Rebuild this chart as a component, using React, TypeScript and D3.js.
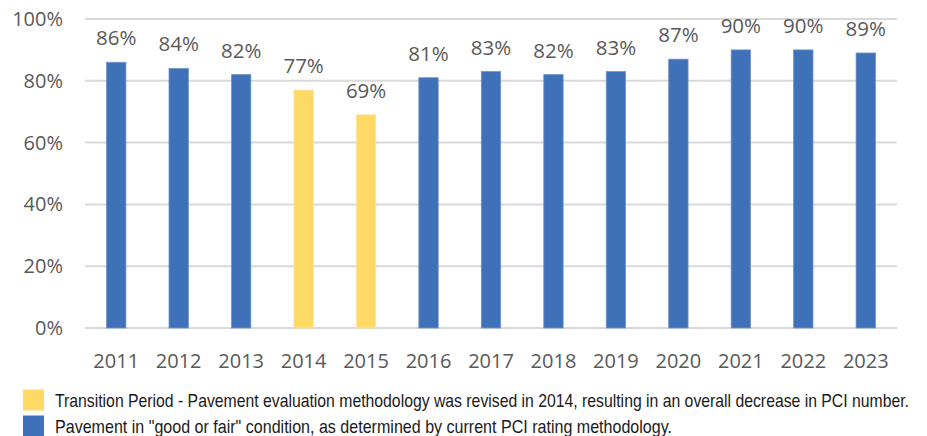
import { useEffect, useRef } from 'react';
import * as d3 from 'd3';

const YEARS = ['2011', '2012', '2013', '2014', '2015', '2016', '2017', '2018', '2019', '2020', '2021', '2022', '2023'];
const VALUES = [86, 84, 82, 77, 69, 81, 83, 82, 83, 87, 90, 90, 89];
const TRANSITION_YEARS = ['2014', '2015'];
const Y_TICKS = [0, 20, 40, 60, 80, 100];
const LEGEND_LABELS = [
  'Transition Period - Pavement evaluation methodology was revised in 2014, resulting in an overall decrease in PCI number.',
  'Pavement in "good or fair" condition, as determined by current PCI rating methodology.',
];

const BLUE = '#3f71b9';
const YELLOW = '#ffd966';

export default function App() {
  const svgRef = useRef<SVGSVGElement>(null);

  useEffect(() => {
    if (!svgRef.current) return;
    const width = 927;
    const height = 436;
    const svg = d3.select(svgRef.current);
    svg.selectAll('*').remove();

    const left = 85;
    const right = 897;
    const top = 19;
    const bottom = 328;

    const x = d3.scaleBand().domain(YEARS).range([left, right]).paddingInner(0.69).paddingOuter(0.345);
    const y = d3.scaleLinear().domain([0, 100]).range([bottom, top]);

    const font = '"Open Sans", "Noto Sans", sans-serif';

    // gridlines
    svg.append('g')
      .selectAll('line')
      .data(Y_TICKS)
      .join('line')
      .attr('x1', left).attr('x2', right)
      .attr('y1', (d) => y(d)).attr('y2', (d) => y(d))
      .attr('stroke', '#d9d9d9')
      .attr('stroke-width', 2);

    // y tick labels
    svg.append('g')
      .selectAll('text')
      .data(Y_TICKS)
      .join('text')
      .attr('x', 63)
      .attr('y', (d) => y(d))
      .attr('dy', '0.35em')
      .attr('text-anchor', 'end')
      .attr('font-family', font)
      .attr('font-size', 20)
      .attr('fill', '#595959')
      .text((d) => `${d}%`);

    // bars
    svg.append('g')
      .selectAll('rect')
      .data(YEARS)
      .join('rect')
      .attr('x', (d) => x(d)!)
      .attr('y', (_, i) => y(VALUES[i]))
      .attr('width', x.bandwidth())
      .attr('height', (_, i) => y(0) - y(VALUES[i]))
      .attr('fill', (d) => (TRANSITION_YEARS.includes(d) ? YELLOW : BLUE))
      .attr('stroke', (d) => (TRANSITION_YEARS.includes(d) ? '#ffe49a' : '#6f93cc'))
      .attr('stroke-width', 0.8);

    // value labels
    svg.append('g')
      .selectAll('text')
      .data(YEARS)
      .join('text')
      .attr('x', (d) => x(d)! + x.bandwidth() / 2)
      .attr('y', (_, i) => y(VALUES[i]) - 17)
      .attr('text-anchor', 'middle')
      .attr('font-family', font)
      .attr('font-size', 20.5)
      .attr('fill', '#595959')
      .text((_, i) => `${VALUES[i]}%`);

    // year labels
    svg.append('g')
      .selectAll('text')
      .data(YEARS)
      .join('text')
      .attr('x', (d) => x(d)! + x.bandwidth() / 2)
      .attr('y', 361)
      .attr('dy', '0.35em')
      .attr('text-anchor', 'middle')
      .attr('font-family', font)
      .attr('font-size', 20)
      .attr('fill', '#595959')
      .text((d) => d);

    // legend
    const legend = [
      { color: YELLOW, label: LEGEND_LABELS[0], len: 854, cy: 400 },
      { color: BLUE, label: LEGEND_LABELS[1], len: 617, cy: 426 },
    ];
    legend.forEach((item) => {
      svg.append('rect')
        .attr('x', 23).attr('y', item.cy - 10.5)
        .attr('width', 21).attr('height', 21)
        .attr('fill', item.color);
      svg.append('text')
        .attr('x', 55).attr('y', item.cy)
        .attr('dy', '0.35em')
        .attr('font-family', '"Liberation Sans Narrow", "Liberation Sans", sans-serif')
        .attr('font-size', 19)
        .attr('fill', '#1a1a1a')
        .attr('textLength', item.len)
        .attr('lengthAdjust', 'spacingAndGlyphs')
        .text(item.label);
    });

    svg.attr('width', width).attr('height', height);
  }, []);

  return <svg ref={svgRef} style={{ position: 'absolute', left: 0, top: 0, display: 'block' }} />;
}
